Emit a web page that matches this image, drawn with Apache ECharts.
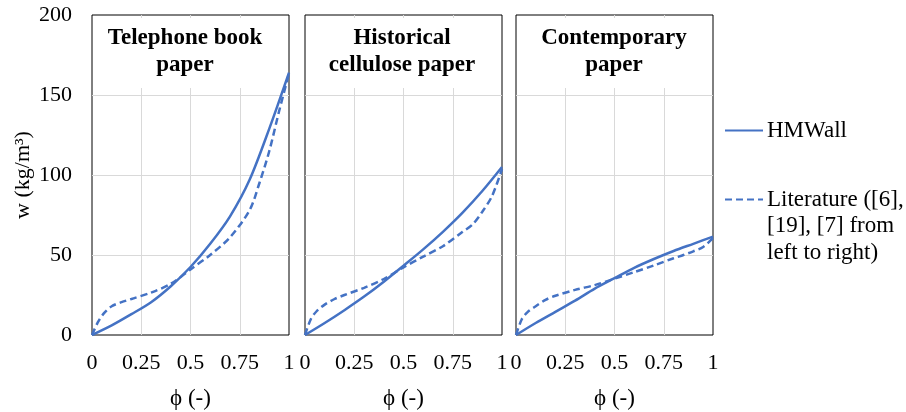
<!DOCTYPE html>
<html>
<head>
    <meta charset="utf-8">
    <title>w vs phi</title>
    <style>
        html, body { margin: 0; padding: 0; background: #fff; }
        #main { width: 906px; height: 412px; }
    </style>
</head>
<body>
<div id="main"></div>
<script src="https://cdn.jsdelivr.net/npm/echarts@6/dist/echarts.min.js"></script>
<script>
    // panel titles
    var panelTitles = ['Telephone book\npaper', 'Historical\ncellulose paper', 'Contemporary\npaper'];
    var xTicks = [0, 0.25, 0.5, 0.75, 1];
    var yTicks = [0, 50, 100, 150, 200];

    // HMWall (solid)
    var hmPhi = [0, 0.1, 0.2, 0.3, 0.4, 0.5, 0.6, 0.7, 0.8, 0.9, 1];
    var hmTelephone = [0, 6, 13, 20.5, 30.5, 42.5, 57, 74, 97, 129, 164];
    var hmHistorical = [0, 7.5, 15.5, 24, 33.3, 43.3, 53.5, 64.5, 76.5, 90, 105];
    var hmContemporary = [0, 7.5, 14.5, 21.5, 29, 35.5, 42, 47.5, 52.5, 57, 61.5];

    // Literature (dashed)
    var litPhi = [0, 0.03, 0.06, 0.1, 0.15, 0.2, 0.3, 0.4, 0.5, 0.6, 0.7, 0.8, 0.85, 0.9, 0.95, 1];
    var litTelephone = [0, 8, 13.5, 18, 20.5, 22.5, 26.5, 32, 41, 50, 61, 78, 95, 115, 140, 163.5];
    var litHistorical = [0, 10, 15, 19, 22.5, 25, 29.5, 35, 42.3, 49, 55.5, 64.5, 69, 77, 87, 103.7];
    var litContemporary = [0, 10, 14.5, 18, 22, 24.5, 28.2, 31.2, 35.2, 39.3, 43.5, 48, 50, 52.3, 55, 60.6];

    var hmSets = [hmTelephone, hmHistorical, hmContemporary];
    var litSets = [litTelephone, litHistorical, litContemporary];

    var blue = '#4472C4';
    var font = 'Liberation Serif';
    var gridLeft = [92, 305, 516];
    var gridW = 197;
    var titleX = [179, 396, 608];

    function pairs(xs, ys) {
        return xs.map(function (x, i) { return [x, ys[i]]; });
    }

    var grids = [], xAxes = [], yAxes = [], series = [], titles = [];
    for (var i = 0; i < 3; i++) {
        grids.push({
            left: gridLeft[i], width: gridW, top: 15, height: 320,
            outerBoundsMode: 'none',
            show: true, borderColor: '#000', borderWidth: 1, backgroundColor: '#fff'
        });
        xAxes.push({
            type: 'value', gridIndex: i, min: xTicks[0], max: xTicks[xTicks.length - 1], interval: 0.25,
            name: 'ϕ (-)', nameLocation: 'middle', nameGap: 52,
            nameTextStyle: { fontFamily: font, fontSize: 23, color: '#000' },
            axisLine: { show: false }, axisTick: { show: false },
            axisLabel: { fontFamily: font, fontSize: 22, color: '#000', margin: 17, showMinLabel: true, showMaxLabel: true },
            splitLine: { show: true, showMinLine: false, showMaxLine: false, lineStyle: { color: '#d9d9d9', width: 1 } }
        });
        yAxes.push({
            type: 'value', gridIndex: i, min: yTicks[0], max: yTicks[yTicks.length - 1], interval: 50,
            name: i === 0 ? 'w (kg/m³)' : '', nameLocation: 'middle', nameGap: 58, nameRotate: 90,
            nameTextStyle: { fontFamily: font, fontSize: 22, color: '#000' },
            axisLine: { show: false }, axisTick: { show: false },
            axisLabel: { show: i === 0, fontFamily: font, fontSize: 22, color: '#000', margin: 20 },
            splitLine: { show: true, showMinLine: false, showMaxLine: false, lineStyle: { color: '#d9d9d9', width: 1 } }
        });
        series.push({
            name: 'HMWall', type: 'line', xAxisIndex: i, yAxisIndex: i,
            data: pairs(hmPhi, hmSets[i]), smooth: 0.3, showSymbol: false, symbol: 'none',
            lineStyle: { color: blue, width: 2.5 }, itemStyle: { color: blue }, z: 3
        });
        series.push({
            name: 'Literature', type: 'line', xAxisIndex: i, yAxisIndex: i,
            data: pairs(litPhi, litSets[i]), smooth: 0.3, showSymbol: false, symbol: 'none',
            lineStyle: { color: blue, width: 2.5, type: [7, 4] }, itemStyle: { color: blue }, z: 3
        });
        titles.push({
            text: panelTitles[i], left: titleX[i], top: 18, textAlign: 'center',
            backgroundColor: '#fff', padding: [7, 6, 9, 6],
            textStyle: { fontFamily: font, fontSize: 23, fontWeight: 'bold', color: '#000', lineHeight: 27 }
        });
    }

    var chart = echarts.init(document.getElementById('main'), null, { renderer: 'canvas' });
    chart.setOption({
        animation: false,
        backgroundColor: '#fff',
        title: titles,
        grid: grids,
        xAxis: xAxes,
        yAxis: yAxes,
        legend: {
            data: ['HMWall', 'Literature'],
            orient: 'vertical', left: 719, top: 112,
            itemWidth: 38, itemHeight: 14, itemGap: 42,
            selectedMode: false,
            itemStyle: { opacity: 0 },
            formatter: function (name) { return name === 'Literature' ? 'Literature ([6],' : name; },
            textStyle: { fontFamily: font, fontSize: 23, color: '#000', lineHeight: 27, padding: [0, 0, 0, -1] }
        },
        graphic: [{
            type: 'text', left: 767, top: 212.5,
            style: { text: '[19], [7] from\nleft to right)', font: '23px "Liberation Serif"', fill: '#000', lineHeight: 27 }
        }],
        series: series
    });
</script>
</body>
</html>
